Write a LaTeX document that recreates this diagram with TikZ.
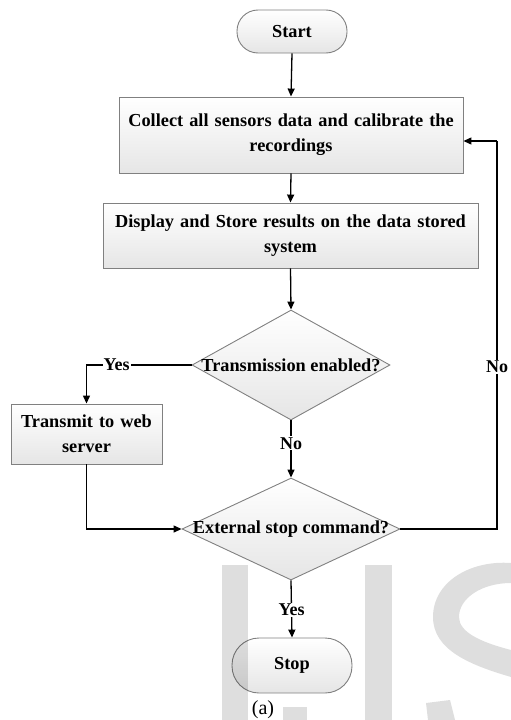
\documentclass[tikz,border=0pt]{standalone}
\usepackage{fontspec}
\setmainfont{Liberation Serif}
\usetikzlibrary{arrows.meta,shapes.geometric}
\tikzset{
  box/.style={draw=black!50, line width=0.9pt, top color=white, bottom color=black!10, align=center, inner sep=0pt, font=\bfseries\fontsize{18.3}{25}\selectfont},
  term/.style={box, rounded corners=21pt},
  dec/.style={diamond, draw=black!50, line width=0.9pt, top color=white, bottom color=black!10, inner sep=0pt},
  dtext/.style={font=\bfseries\fontsize{18.3}{25}\selectfont, inner sep=0pt},
  arr/.style={line width=1.3pt, -{Triangle[length=8pt,width=7pt]}},
  ln/.style={line width=1.3pt},
  lbl/.style={fill=white, inner sep=1pt, font=\bfseries\fontsize{18}{20}\selectfont},
  wm/.style={fill=black, fill opacity=0.13, draw=none}
}
\begin{document}
\begin{tikzpicture}[x=1pt,y=-1pt]
\useasboundingbox (0,0) rectangle (511,720);
\node[term, minimum width=110pt, minimum height=43pt] (start) at (292,31.5) {Start};
\node[box, minimum width=344pt, minimum height=76pt, text width=340pt] (b1) at (291,135) {Collect all sensors data and calibrate the\\recordings};
\node[box, minimum width=375pt, minimum height=65pt, text width=370pt] (b2) at (290.5,235.5) {Display and Store results on the data stored\\system};
\node[dec, minimum width=198pt, minimum height=110pt] (d1) at (291,365) {};
\node[dtext] (d1t) at (d1.center) {Transmission enabled?};
\node[box, minimum width=151pt, minimum height=60pt, text width=148pt] (b3) at (86.5,434) {Transmit to web\\server};
\node[dec, minimum width=218pt, minimum height=102pt] (d2) at (291,529) {};
\node[dtext] (d2t) at (d2.center) {External stop command?};
\node[term, minimum width=120pt, minimum height=55pt, rounded corners=27pt] (stop) at (292,665.5) {Stop};
\node[font=\fontsize{20}{22}\selectfont, inner sep=0pt] (cap) at (263,710) {(a)};
\coordinate (r2) at (497,141);

\draw[arr] (start.south) -- (b1.north);
\draw[arr] (b1.south) -- (b2.north);
\draw[arr] (b2.south) -- (d1.north);
\draw[arr] (d1.west) -| node[lbl, pos=0.357] (yes1) {Yes} (b3.north);
\draw[arr] (d1.south) -- node[lbl, pos=0.4] (no1) {No} (d2.north);
\draw[arr] (b3.south) |- (d2.west);
\draw[ln] (d2.east) -| node[lbl, pos=0.709] (no2) {No} (r2);
\draw[arr] (r2) -- (b1.east |- r2);
\draw[arr] (d2.south) -- node[lbl, pos=0.517] (yes2) {Yes} (stop.north);

% watermark
\fill[wm] (222,565) rectangle (248,720);
\fill[wm] (365,565) rectangle (392,720);
\fill[wm] (283,707) rectangle (307,720);
\fill[wm] (426,703) -- (450,700) -- (455,720) -- (428,720) -- cycle;
\fill[wm] (511,563) .. controls (470,560) and (433,582) .. (433,617)
  .. controls (433,650) and (470,665) .. (511,677) -- (511,650)
  .. controls (480,642) and (459,632) .. (459,617)
  .. controls (459,598) and (482,583) .. (511,583) -- cycle;
\end{tikzpicture}
\end{document}
